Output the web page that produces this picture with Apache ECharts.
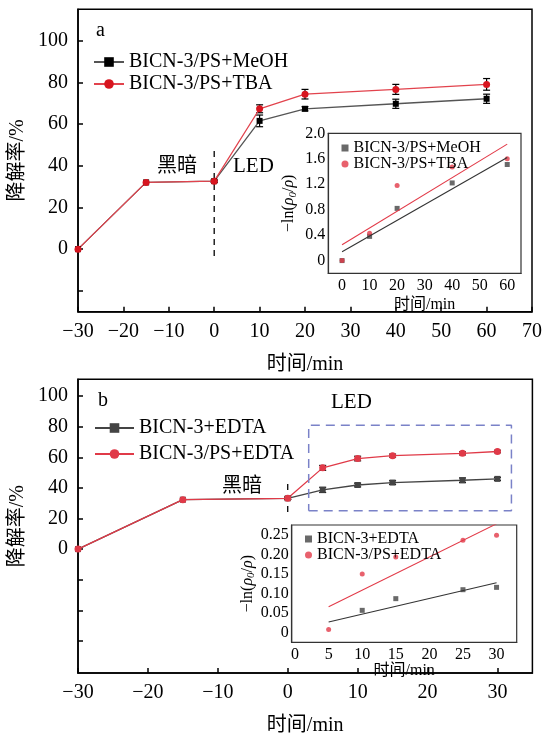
<!DOCTYPE html>
<html>
<head>
<meta charset="utf-8">
<script src="https://cdn.jsdelivr.net/npm/echarts@6/dist/echarts.min.js"></script>
<style>
  html, body { margin: 0; padding: 0; background: #fff; }
  #main { width: 545px; height: 737px; }
</style>
</head>
<body>
<div id="main"></div>
<script>
// ---- 数据 ----
// 图 a
var timesA = [-30, -15, 0, 10, 20, 40, 60];
var meohA = [0, 32, 32.6, 61.5, 67.3, 69.7, 72.1];
var meohErrA = [0, 0, 0.5, 2.8, 1, 2.2, 2.2];
var tbaA = [0, 32, 32.6, 67.3, 74.3, 76.6, 79];
var tbaErrA = [0, 0, 0.5, 1.9, 2.3, 2.4, 2.8];
var darkLineA = [47, -4];

var insetTimesA = [0, 10, 20, 40, 60];
var meohLnA = [0, 0.38, 0.82, 1.22, 1.51];
var tbaLnA = [0, 0.43, 1.18, 1.47, 1.6];
var fitTimesA = [0, 60];
var meohFitA = [0.14, 1.62];
var tbaFitA = [0.25, 1.83];

// 图 b
var timesB = [-30, -15, 0, 5, 10, 15, 25, 30];
var edtaB = [0, 32.3, 33.2, 38.7, 41.9, 43.5, 45, 45.9];
var edtaErrB = [0, 0, 0.8, 1.7, 1.2, 1.2, 1.5, 1];
var psEdtaB = [0, 32.3, 33.2, 53.1, 59.2, 61.1, 62.6, 63.8];
var psEdtaErrB = [0, 0, 0.8, 1.6, 1.5, 1, 1, 0.8];
var darkLineB = [42.5, 22];
var ledBoxX = [3, 32];
var ledBoxY = [25, 81];

var insetTimesB = [5, 10, 15, 25, 30];
var edtaLnB = [null, 0.057, 0.087, 0.11, 0.116];
var psLnB = [0.008, 0.15, 0.194, 0.237, 0.25];
var fitTimesB = [5, 30];
var edtaFitB = [0.027, 0.128];
var psFitB = [0.066, 0.279];

// 刻度
var yTicksA = [-20, 0, 20, 40, 60, 80, 100];
var yLabelsMain = [0, 20, 40, 60, 80, 100];
var xTicksB = [-30, -20, -10, 0, 10, 20, 30];
var yTicksB = [-60, -40, -20, 0, 20, 40, 60, 80, 100];
var xTicksInsetA = [0, 10, 20, 30, 40, 50, 60];
var yTicksInsetA = [0, 0.4, 0.8, 1.2, 1.6, 2.0];
var xTicksInsetB = [0, 5, 10, 15, 20, 25, 30];
var yTicksInsetB = [0, 0.05, 0.10, 0.15, 0.20, 0.25];

var FONT = "'Liberation Serif', 'Noto Sans CJK SC', serif";
var RED = '#d7151f';
var RED_LINE = '#e2434d';
var GREY_LINE = '#555';

function zip(xs, ys) {
  return xs.map(function (x, i) { return [x, ys[i]]; });
}
function zip3(xs, ys, es) {
  return xs.map(function (x, i) { return [x, ys[i], es[i]]; });
}
function minus(v) { return String(v).replace('-', '\u2212'); }

function errRender(params, api) {
  var x = api.value(0), y = api.value(1), e = api.value(2);
  if (!e) return;
  var hi = api.coord([x, y + e]), lo = api.coord([x, y - e]);
  var w = 3.5;
  var st = { stroke: '#000', lineWidth: 1.2 };
  return {
    type: 'group',
    children: [
      { type: 'line', shape: { x1: hi[0], y1: hi[1], x2: lo[0], y2: lo[1] }, style: st },
      { type: 'line', shape: { x1: hi[0] - w, y1: hi[1], x2: hi[0] + w, y2: hi[1] }, style: st },
      { type: 'line', shape: { x1: lo[0] - w, y1: lo[1], x2: lo[0] + w, y2: lo[1] }, style: st }
    ]
  };
}

function mainX(idx, min, max, ticks) {
  var ax = {
    type: 'value', gridIndex: idx, min: min, max: max, interval: 10,
    name: '时间/min', nameLocation: 'middle', nameGap: 43,
    nameTextStyle: { fontFamily: FONT, fontSize: 20, color: '#000' },
    axisLine: { onZero: false, lineStyle: { color: '#000', width: 1.5 } },
    axisTick: { inside: true, length: 5, lineStyle: { color: '#000', width: 1.5 } },
    axisLabel: { fontFamily: FONT, fontSize: 20, color: '#000', margin: 10, formatter: minus },
    splitLine: { show: false }
  };
  if (ticks) {
    ax.axisTick.customValues = ticks;
    ax.axisLabel.customValues = ticks;
  }
  return ax;
}
function mainY(idx, min, max, ticks) {
  return {
    type: 'value', gridIndex: idx, min: min, max: max,
    name: '降解率/%', nameLocation: 'middle', nameGap: 50, nameMoveOverlap: false,
    nameTextStyle: { fontFamily: FONT, fontSize: 20, color: '#000' },
    axisLine: { onZero: false, lineStyle: { color: '#000', width: 1.5 } },
    axisTick: { inside: true, length: 5, customValues: ticks, lineStyle: { color: '#000', width: 1.5 } },
    axisLabel: { fontFamily: FONT, fontSize: 20, color: '#000', margin: 10, customValues: yLabelsMain },
    splitLine: { show: false }
  };
}
function insetX(idx, min, max, ticks, gap) {
  return {
    type: 'value', gridIndex: idx, min: min, max: max,
    name: '时间/min', nameLocation: 'middle', nameGap: gap,
    nameTextStyle: { fontFamily: FONT, fontSize: 16, color: '#000' },
    axisLine: { onZero: false, lineStyle: { color: '#333', width: 1.2 } },
    axisTick: { show: false },
    axisLabel: { fontFamily: FONT, fontSize: 16, color: '#000', margin: 4, customValues: ticks },
    splitLine: { show: false }
  };
}
function insetY(idx, min, max, ticks, digits, gap) {
  return {
    type: 'value', gridIndex: idx, min: min, max: max,
    name: '\u2212ln({i|ρ}{s|0}/{i|ρ})', nameLocation: 'middle', nameGap: gap,
    nameTextStyle: {
      fontFamily: FONT, fontSize: 16, color: '#000',
      rich: {
        i: { fontFamily: FONT, fontSize: 16, fontStyle: 'italic', color: '#000' },
        s: { fontFamily: FONT, fontSize: 11, fontStyle: 'italic', color: '#000', verticalAlign: 'bottom', padding: [8, 0, 0, 0] }
      }
    },
    axisLine: { onZero: false, lineStyle: { color: '#333', width: 1.2 } },
    axisTick: { show: false },
    axisLabel: {
      fontFamily: FONT, fontSize: 16, color: '#000', margin: 3, customValues: ticks,
      formatter: function (v) { return v === 0 ? '0' : v.toFixed(digits); }
    },
    splitLine: { show: false }
  };
}

var legendNames = {
  'aMeOH': 'BICN-3/PS+MeOH', 'aTBA': 'BICN-3/PS+TBA',
  'iaMeOH': 'BICN-3/PS+MeOH', 'iaTBA': 'BICN-3/PS+TBA',
  'bEDTA': 'BICN-3+EDTA', 'bPS': 'BICN-3/PS+EDTA',
  'ibEDTA': 'BICN-3+EDTA', 'ibPS': 'BICN-3/PS+EDTA'
};
function fmtLegend(n) { return legendNames[n]; }

var chart = echarts.init(document.getElementById('main'));

var option = {
  animation: false,
  backgroundColor: '#fff',
  grid: [
    { left: 78, top: 9.3, width: 454, height: 302.4, show: true, borderColor: '#000', borderWidth: 1.5, backgroundColor: 'transparent' },
    { left: 78, top: 379.3, width: 454.4, height: 303.4, show: true, borderColor: '#000', borderWidth: 1.5, backgroundColor: 'transparent' },
    { left: 328.3, top: 133.3, width: 192.7, height: 140, show: true, borderColor: '#333', borderWidth: 1.2, backgroundColor: '#fff' },
    { left: 291.7, top: 525, width: 225, height: 117.3, show: true, borderColor: '#333', borderWidth: 1.2, backgroundColor: '#fff' }
  ],
  xAxis: [
    mainX(0, -30, 70, null),
    mainX(1, -30, 35, xTicksB),
    insetX(2, -5, 65, xTicksInsetA, 23),
    insetX(3, -0.5, 33, xTicksInsetB, 17)
  ],
  yAxis: [
    mainY(0, -30, 115, yTicksA),
    mainY(1, -81, 111, yTicksB),
    insetY(2, -0.2, 2.0, yTicksInsetA, 1, 30),
    insetY(3, -0.025, 0.276, yTicksInsetB, 2, 32)
  ],
  legend: [
    {
      data: ['aMeOH', 'aTBA'], formatter: fmtLegend, orient: 'vertical',
      left: 88, top: 46, itemWidth: 30, itemHeight: 12, itemGap: 0,
      textStyle: { fontFamily: FONT, fontSize: 20, color: '#000', lineHeight: 22 }
    },
    {
      data: ['bEDTA', 'bPS'], formatter: fmtLegend, orient: 'vertical',
      left: 89, top: 412, itemWidth: 39, itemHeight: 12, itemGap: 4,
      textStyle: { fontFamily: FONT, fontSize: 20, color: '#000', lineHeight: 22 }
    },
    {
      data: [{ name: 'iaMeOH', icon: 'rect' }, { name: 'iaTBA', icon: 'circle' }], formatter: fmtLegend, orient: 'vertical',
      left: 336.5, top: 135, itemWidth: 7, itemHeight: 7, itemGap: 0,
      textStyle: { fontFamily: FONT, fontSize: 16, color: '#000', lineHeight: 14 }
    },
    {
      data: [{ name: 'ibEDTA', icon: 'rect' }, { name: 'ibPS', icon: 'circle' }], formatter: fmtLegend, orient: 'vertical',
      left: 300, top: 526, itemWidth: 7, itemHeight: 7, itemGap: 0,
      textStyle: { fontFamily: FONT, fontSize: 16, color: '#000', lineHeight: 14 }
    }
  ],
  graphic: [
    { type: 'text', left: 96, top: 21, style: { text: 'a', font: '20px ' + FONT, fill: '#000' } },
    { type: 'text', left: 157, top: 157, style: { text: '黑暗', font: '20px ' + FONT, fill: '#000' } },
    { type: 'text', left: 233, top: 156, style: { text: 'LED', font: '21px ' + FONT, fill: '#000' } },
    { type: 'text', left: 98, top: 391, style: { text: 'b', font: '20px ' + FONT, fill: '#000' } },
    { type: 'text', left: 331, top: 392, style: { text: 'LED', font: '21px ' + FONT, fill: '#000' } },
    { type: 'text', left: 222, top: 477, style: { text: '黑暗', font: '20px ' + FONT, fill: '#000' } }
  ],
  series: [
    // 图 a
    {
      name: 'aMeOH', type: 'line', xAxisIndex: 0, yAxisIndex: 0, data: zip(timesA, meohA),
      symbol: 'rect', symbolSize: 6, lineStyle: { color: GREY_LINE, width: 1.3 },
      itemStyle: { color: '#000' }
    },
    {
      name: 'aTBA', type: 'line', xAxisIndex: 0, yAxisIndex: 0, data: zip(timesA, tbaA),
      symbol: 'circle', symbolSize: 7, lineStyle: { color: RED_LINE, width: 1.3 },
      itemStyle: { color: RED }
    },
    { type: 'custom', xAxisIndex: 0, yAxisIndex: 0, renderItem: errRender, data: zip3(timesA, meohA, meohErrA), z: 3 },
    { type: 'custom', xAxisIndex: 0, yAxisIndex: 0, renderItem: errRender, data: zip3(timesA, tbaA, tbaErrA), z: 3 },
    {
      type: 'line', xAxisIndex: 0, yAxisIndex: 0, data: [[0, darkLineA[0]], [0, darkLineA[1]]],
      symbol: 'none', lineStyle: { color: '#000', width: 1.3, type: [6, 5] }, silent: true
    },
    // 图 a 插图
    {
      name: 'iaMeOH', type: 'scatter', xAxisIndex: 2, yAxisIndex: 2, data: zip(insetTimesA, meohLnA),
      symbol: 'rect', symbolSize: 5, itemStyle: { color: '#444' }
    },
    {
      name: 'iaTBA', type: 'scatter', xAxisIndex: 2, yAxisIndex: 2, data: zip(insetTimesA, tbaLnA),
      symbol: 'circle', symbolSize: 5, itemStyle: { color: '#e23a48' }
    },
    {
      type: 'line', xAxisIndex: 2, yAxisIndex: 2, data: zip(fitTimesA, meohFitA),
      symbol: 'none', lineStyle: { color: '#333', width: 1.1 }
    },
    {
      type: 'line', xAxisIndex: 2, yAxisIndex: 2, data: zip(fitTimesA, tbaFitA),
      symbol: 'none', lineStyle: { color: '#e23a48', width: 1.1 }
    },
    // 图 b
    {
      name: 'bEDTA', type: 'line', xAxisIndex: 1, yAxisIndex: 1, data: zip(timesB, edtaB),
      symbol: 'rect', symbolSize: 6, lineStyle: { color: '#444', width: 1.3 },
      itemStyle: { color: '#444' }
    },
    {
      name: 'bPS', type: 'line', xAxisIndex: 1, yAxisIndex: 1, data: zip(timesB, psEdtaB),
      symbol: 'circle', symbolSize: 7, lineStyle: { color: '#e03a48', width: 1.3 },
      itemStyle: { color: '#e03a48' }
    },
    { type: 'custom', xAxisIndex: 1, yAxisIndex: 1, renderItem: errRender, data: zip3(timesB, edtaB, edtaErrB), z: 3 },
    { type: 'custom', xAxisIndex: 1, yAxisIndex: 1, renderItem: errRender, data: zip3(timesB, psEdtaB, psEdtaErrB), z: 3 },
    {
      type: 'line', xAxisIndex: 1, yAxisIndex: 1, data: [[0, darkLineB[0]], [0, darkLineB[1]]],
      symbol: 'none', lineStyle: { color: '#000', width: 1.3, type: [6, 5] }, silent: true
    },
    {
      type: 'line', xAxisIndex: 1, yAxisIndex: 1,
      data: [[ledBoxX[0], ledBoxY[0]], [ledBoxX[1], ledBoxY[0]], [ledBoxX[1], ledBoxY[1]], [ledBoxX[0], ledBoxY[1]], [ledBoxX[0], ledBoxY[0]]],
      symbol: 'none', lineStyle: { color: '#7a82c8', width: 1.5, type: [9, 6] }, silent: true
    },
    // 图 b 插图
    {
      name: 'ibEDTA', type: 'scatter', xAxisIndex: 3, yAxisIndex: 3, data: zip(insetTimesB, edtaLnB),
      symbol: 'rect', symbolSize: 5, itemStyle: { color: '#444' }
    },
    {
      name: 'ibPS', type: 'scatter', xAxisIndex: 3, yAxisIndex: 3, data: zip(insetTimesB, psLnB),
      symbol: 'circle', symbolSize: 5, itemStyle: { color: '#e23a48' }
    },
    {
      type: 'line', xAxisIndex: 3, yAxisIndex: 3, data: zip(fitTimesB, edtaFitB),
      symbol: 'none', lineStyle: { color: '#333', width: 1.1 }
    },
    {
      type: 'line', xAxisIndex: 3, yAxisIndex: 3, data: zip(fitTimesB, psFitB), clip: true,
      symbol: 'none', lineStyle: { color: '#e23a48', width: 1.1 }
    }
  ]
};

chart.setOption(option);
</script>
</body>
</html>
